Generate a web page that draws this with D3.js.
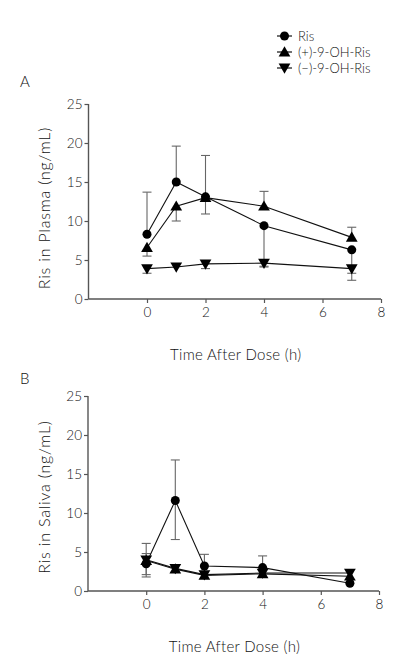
<!DOCTYPE html>
<html>
<head>
<meta charset="utf-8">
<script src="https://cdn.jsdelivr.net/npm/d3@7"></script>
<style>
  html, body { margin: 0; padding: 0; background: #fff; }
  svg { display: block; font-family: Lato, "Open Sans", sans-serif; font-weight: 300; }
</style>
</head>
<body>
<svg id="chart" width="400" height="665"></svg>
<script>
// ---- Data ----
const times = [0, 1, 2, 4, 7];
const seriesNames = ["Ris", "(+)-9-OH-Ris", "(\u2212)-9-OH-Ris"];
const xTicks = [0, 2, 4, 6, 8];
const yTicks = [0, 5, 10, 15, 20, 25];

// Panel A: plasma
const plasmaRis      = [8.3, 15.0, 13.1, 9.4, 6.3];
const plasmaRisUp    = [5.4, 4.6, 5.3, 0, 0];
const plasmaRisDown  = [0, 0, 0, 5.2, 3.9];
const plasmaPlus     = [6.6, 11.9, 13.0, 11.9, 7.9];
const plasmaPlusUp   = [0, 0, 0, 1.9, 1.3];
const plasmaPlusDown = [1.1, 1.9, 2.1, 0, 0];
const plasmaMinus    = [3.9, 4.1, 4.5, 4.6, 3.9];
const plasmaMinusUp  = [0, 0, 0, 0, 0];
const plasmaMinusDown= [0.6, 0, 0.6, 0.5, 0.6];

// Panel B: saliva
const salivaRis      = [3.5, 11.6, 3.2, 3.0, 1.0];
const salivaRisUp    = [2.6, 5.2, 1.5, 1.5, 0];
const salivaRisDown  = [0, 5.0, 0, 0, 0];
const salivaPlus     = [3.9, 2.8, 2.0, 2.2, 1.9];
const salivaPlusUp   = [0.9, 0, 0, 0, 0];
const salivaPlusDown = [1.8, 0, 0, 0, 0];
const salivaMinus    = [4.0, 2.9, 2.1, 2.3, 2.3];
const salivaMinusUp  = [0, 0, 0, 0, 0];
const salivaMinusDown= [2.2, 0, 0, 0, 0];

const svg = d3.select("#chart");
const axisColor = "#555";
const errColor = "#666";
const textColor = "#111";

const symbols = [d3.symbolCircle, d3.symbolTriangle, d3.symbolTriangle];
const symSizes = [64, 60, 60];
const symRot = [0, 0, 180];

function symbolPath(i) {
  return d3.symbol().type(symbols[i]).size(symSizes[i])();
}

function drawPanel(cfg) {
  const x = d3.scaleLinear().domain([-2, 8]).range([cfg.x0, cfg.x1]);
  const y = d3.scaleLinear().domain([0, 25]).range([cfg.y0, cfg.y1]);
  const g = svg.append("g");

  // axes
  const xAxis = d3.axisBottom(x).tickValues(xTicks).tickSize(4).tickPadding(4);
  const gx = g.append("g").attr("transform", `translate(0,${cfg.y0})`).call(xAxis);
  const yAxis = d3.axisLeft(y).tickValues(yTicks).tickSize(4).tickPadding(2);
  const gy = g.append("g").attr("transform", `translate(${cfg.x0},0)`).call(yAxis);
  [gx, gy].forEach(a => {
    a.select(".domain").attr("stroke", axisColor).attr("stroke-width", 1.4);
    a.selectAll(".tick line").attr("stroke", axisColor).attr("stroke-width", 1.2);
    a.selectAll(".tick text").attr("fill", textColor).attr("font-size", 13.5)
      .attr("font-family", "Lato, sans-serif").attr("font-weight", 300);
  });
  gx.select(".domain").attr("d", `M${cfg.x0},0H${cfg.x1}`);
  gy.select(".domain").attr("d", `M0,${cfg.y0}V${cfg.y1}`);

  // axis titles
  g.append("text").attr("x", (cfg.x0 + cfg.x1) / 2 + 1).attr("y", cfg.y0 + 61)
    .attr("text-anchor", "middle").attr("font-size", 15).attr("fill", textColor)
    .attr("letter-spacing", 0.3)
    .text("Time After Dose (h)");
  g.append("text")
    .attr("transform", `translate(${cfg.yLabelX},${cfg.yLabelY}) rotate(-90)`)
    .attr("text-anchor", "middle").attr("font-size", 16).attr("fill", textColor)
    .attr("letter-spacing", 0.8)
    .text(cfg.yTitle);
  g.append("text").attr("x", cfg.panelX).attr("y", cfg.panelY)
    .attr("font-size", 15).attr("fill", textColor).text(cfg.panel);

  const line = d3.line().x((d, i) => x(times[i])).y(d => y(d));

  // error bars
  cfg.series.forEach((s, si) => {
    s.values.forEach((v, i) => {
      const cx = x(times[i]);
      const parts = [];
      if (s.up[i] > 0) parts.push(v + s.up[i]);
      if (s.down[i] > 0) parts.push(v - s.down[i]);
      parts.forEach(end => {
        g.append("line").attr("x1", cx).attr("x2", cx).attr("y1", y(v)).attr("y2", y(end))
          .attr("stroke", errColor).attr("stroke-width", 1.1);
        g.append("line").attr("x1", cx - 4.5).attr("x2", cx + 4.5).attr("y1", y(end)).attr("y2", y(end))
          .attr("stroke", errColor).attr("stroke-width", 1.1);
      });
    });
  });

  // lines
  cfg.series.forEach((s, si) => {
    g.append("path").datum(s.values).attr("d", line)
      .attr("fill", "none").attr("stroke", "#111").attr("stroke-width", 1.1);
  });

  // markers
  cfg.series.forEach((s, si) => {
    g.selectAll(null).data(s.values).enter().append("path")
      .attr("d", symbolPath(si))
      .attr("transform", (d, i) => `translate(${x(times[i])},${y(d) + (si === 2 ? -1 : si === 1 ? 1 : 0)}) rotate(${symRot[si]})`)
      .attr("fill", "#000");
  });
}

drawPanel({
  x0: 88.5, x1: 381, y0: 299, y1: 104,
  yTitle: "Ris in Plasma (ng/mL)", yLabelX: 50, yLabelY: 208,
  panel: "A", panelX: 20, panelY: 87,
  series: [
    { values: plasmaRis, up: plasmaRisUp, down: plasmaRisDown },
    { values: plasmaPlus, up: plasmaPlusUp, down: plasmaPlusDown },
    { values: plasmaMinus, up: plasmaMinusUp, down: plasmaMinusDown }
  ]
});

drawPanel({
  x0: 88, x1: 379, y0: 591, y1: 396,
  yTitle: "Ris in Saliva (ng/mL)", yLabelX: 50, yLabelY: 497,
  panel: "B", panelX: 20, panelY: 384,
  series: [
    { values: salivaRis, up: salivaRisUp, down: salivaRisDown },
    { values: salivaPlus, up: salivaPlusUp, down: salivaPlusDown },
    { values: salivaMinus, up: salivaMinusUp, down: salivaMinusDown }
  ]
});

// legend
const leg = svg.append("g");
const legY = [36, 52, 68];
seriesNames.forEach((name, i) => {
  leg.append("line").attr("x1", 277).attr("x2", 292).attr("y1", legY[i]).attr("y2", legY[i])
    .attr("stroke", "#111").attr("stroke-width", 1.2);
  leg.append("path").attr("d", symbolPath(i))
    .attr("transform", `translate(284.5,${legY[i] + (i === 2 ? -1 : i === 1 ? 1 : 0)}) rotate(${symRot[i]})`)
    .attr("fill", "#000");
  leg.append("text").attr("x", 298).attr("y", legY[i] + 4.5)
    .attr("font-size", 13).attr("fill", textColor).text(name);
});
</script>
</body>
</html>
